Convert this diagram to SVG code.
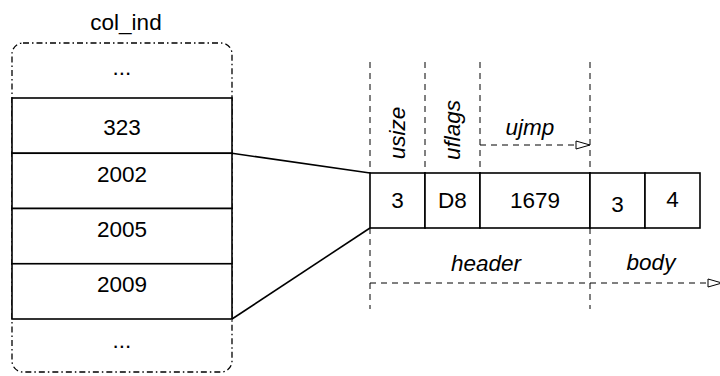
<svg xmlns="http://www.w3.org/2000/svg" width="720" height="376" viewBox="0 0 720 376">
<defs>
<marker id="open" markerWidth="16" markerHeight="10" refX="15" refY="5" orient="auto" markerUnits="userSpaceOnUse">
<path d="M1,1 L15,5 L1,9 Z" fill="#fff" stroke="#000" stroke-width="1"/>
</marker>
</defs>
<style>
text{font-family:"Liberation Sans",Arial,sans-serif;font-size:22.5px;fill:#000;text-anchor:middle}
.it{font-style:italic}
.cell{fill:#fff;stroke:#000;stroke-width:1.6}
.dash{fill:none;stroke:#000;stroke-width:1;stroke-dasharray:6 5}
.dd{fill:none;stroke:#000;stroke-width:1.3;stroke-dasharray:6 3 1.5 3}
.conn{fill:none;stroke:#000;stroke-width:1.6}
</style>
<g id="col_ind">
<text x="126" y="30">col_ind</text>
<rect class="dd" x="12" y="43" width="220" height="329" rx="11"/>
<text x="122" y="75">...</text>
<rect class="cell" x="12" y="98" width="220" height="55.25"/>
<text x="122" y="135">323</text>
<rect class="cell" x="12" y="153.25" width="220" height="55.25"/>
<text x="122" y="182">2002</text>
<rect class="cell" x="12" y="208.5" width="220" height="55.25"/>
<text x="122" y="237">2005</text>
<rect class="cell" x="12" y="263.75" width="220" height="55.25"/>
<text x="122" y="292">2009</text>
<text x="122" y="348">...</text>
</g>
<g id="record">
<rect class="cell" x="370" y="173" width="55" height="55"/>
<text x="397.5" y="208">3</text>
<rect class="cell" x="425" y="173" width="55" height="55"/>
<text x="452.5" y="208">D8</text>
<rect class="cell" x="480" y="173" width="110" height="55"/>
<text x="535" y="208">1679</text>
<rect class="cell" x="590" y="173" width="55" height="55"/>
<text x="617.5" y="212">3</text>
<rect class="cell" x="645" y="173" width="55" height="55"/>
<text x="672.5" y="207">4</text>
</g>
<g id="labels">
<text class="it" transform="translate(405,133) rotate(-90)">usize</text>
<text class="it" transform="translate(460,130) rotate(-90)">uflags</text>
<text class="it" x="530" y="135">ujmp</text>
<text class="it" x="486" y="271">header</text>
<text class="it" x="651" y="270">body</text>
</g>
<g id="connectors">
<line class="conn" x1="232" y1="153.25" x2="370" y2="173"/>
<line class="conn" x1="232" y1="319" x2="370" y2="228"/>
<line class="dash" x1="370" y1="62" x2="370" y2="173"/>
<line class="dash" x1="425" y1="62" x2="425" y2="173"/>
<line class="dash" x1="480" y1="62" x2="480" y2="173"/>
<line class="dash" x1="590" y1="62" x2="590" y2="173"/>
<line class="dash" x1="370" y1="228" x2="370" y2="309"/>
<line class="dash" x1="590" y1="228" x2="590" y2="309"/>
<line class="dash" x1="480" y1="145" x2="590" y2="145" marker-end="url(#open)"/>
<line class="dash" x1="370" y1="283" x2="722" y2="283" marker-end="url(#open)"/>
</g>
</svg>
